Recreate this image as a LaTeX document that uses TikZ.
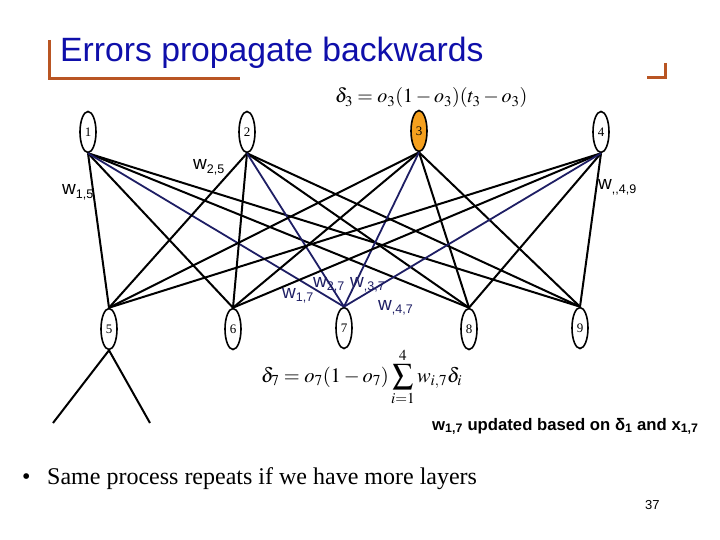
\documentclass[tikz,border=0pt]{standalone}
\usepackage{mathptmx}
\usepackage{fontspec}
\setmainfont{Liberation Serif}
\newfontfamily\arialf{Liberation Sans}
\usetikzlibrary{shapes.geometric}
\definecolor{navyl}{RGB}{30,30,100}
\definecolor{titleblue}{RGB}{15,15,170}
\definecolor{brk}{RGB}{185,85,35}
\definecolor{nodeorange}{RGB}{245,160,30}
\newcommand{\wlab}[1]{{\arialf\fontsize{19}{19}\selectfont w}{\arialf\fontsize{12.5}{12.5}\selectfont\raisebox{-3.5pt}{#1}}}
\tikzset{
  neuron/.style={ellipse, draw=black, line width=1.6pt, minimum width=16pt, minimum height=41pt, inner sep=0pt, font=\fontsize{13}{13}\selectfont},
  blk/.style={draw=black, line width=2pt},
  blu/.style={draw=navyl, line width=1.8pt},
  wl/.style={anchor=base west, inner sep=0pt},
  bracket/.style={draw=brk, line width=3pt}
}
\begin{document}
\begin{tikzpicture}[x=1pt,y=-1pt]
\useasboundingbox (0,0) rectangle (720,540);
% title
\node[anchor=base west, inner sep=0pt, text=titleblue, font=\arialf\fontsize{33.7}{34}\selectfont] (title) at (60,62) {Errors propagate backwards};
\coordinate (b1) at (49,40);
\coordinate (b2) at (49,79);
\coordinate (b3) at (240,79);
\draw[bracket] (b1) -- (b2) -- (b3);
\coordinate (c1) at (665,63);
\coordinate (c2) at (665,78);
\coordinate (c3) at (647,78);
\draw[bracket] (c1) -- (c2) -- (c3);
% formula delta 3
\node[anchor=base west, inner sep=0pt, font=\fontsize{20}{20}\selectfont] (f3) at (335,103) {$\delta_3 = o_3(1-o_3)(t_3-o_3)$};
% neurons
\node[neuron] (n1) at (88,132) {1};
\node[neuron] (n2) at (247,132) {2};
\node[neuron, fill=nodeorange] (n3) at (419,131) {3};
\node[neuron] (n4) at (601,132) {4};
\node[neuron] (n5) at (109,329) {5};
\node[neuron] (n6) at (233,329) {6};
\node[neuron] (n7) at (344,328) {7};
\node[neuron] (n8) at (469,329) {8};
\node[neuron] (n9) at (580,328) {9};
% connections
\foreach \i in {1,2,3,4}{
  \foreach \j in {5,6,8,9}{
    \draw[blk] (n\i.south) -- (n\j.north);
  }
  \draw[blu] (n\i.south) -- (n7.north);
}
\coordinate (l1) at (53,423);
\coordinate (l2) at (150,423);
\draw[blk] (n5.south) -- (l1);
\draw[blk] (n5.south) -- (l2);
% weight labels
\node[wl] (w15) at (62,195) {\wlab{1,5}};
\node[wl] (w25) at (193,170) {\wlab{2,5}};
\node[wl] (w49) at (598,190) {\wlab{,,4,9}};
\node[wl, text=navyl] (w17) at (282,298) {\wlab{1,7}};
\node[wl, text=navyl] (w27) at (313,287) {\wlab{2,7}};
\node[wl, text=navyl] (w37) at (350,287) {\wlab{,3,7}};
\node[wl, text=navyl] (w47) at (378,310) {\wlab{,4,7}};
% formula delta 7
\node[anchor=base west, inner sep=0pt, font=\fontsize{20.5}{20.5}\selectfont] (f7) at (261,382) {$\displaystyle \delta_7 = o_7(1-o_7)\sum_{i=1}^{4} w_{i,7}\delta_i$};
% note
\node[anchor=base west, inner sep=0pt, font=\arialf\bfseries\fontsize{16.7}{16.7}\selectfont] (note) at (432,430) {w\textsubscript{1,7} updated based on δ\textsubscript{1} and x\textsubscript{1,7}};
% bullet
\node[anchor=base west, inner sep=0pt, font=\fontsize{24}{24}\selectfont] (bul) at (22,484) {\textbullet};
\node[anchor=base west, inner sep=0pt, font=\fontsize{24}{24}\selectfont] (same) at (47,484) {Same process repeats if we have more layers};
\node[anchor=base west, inner sep=0pt, font=\arialf\fontsize{13}{13}\selectfont] (pg) at (645,509) {37};
\end{tikzpicture}
\end{document}
